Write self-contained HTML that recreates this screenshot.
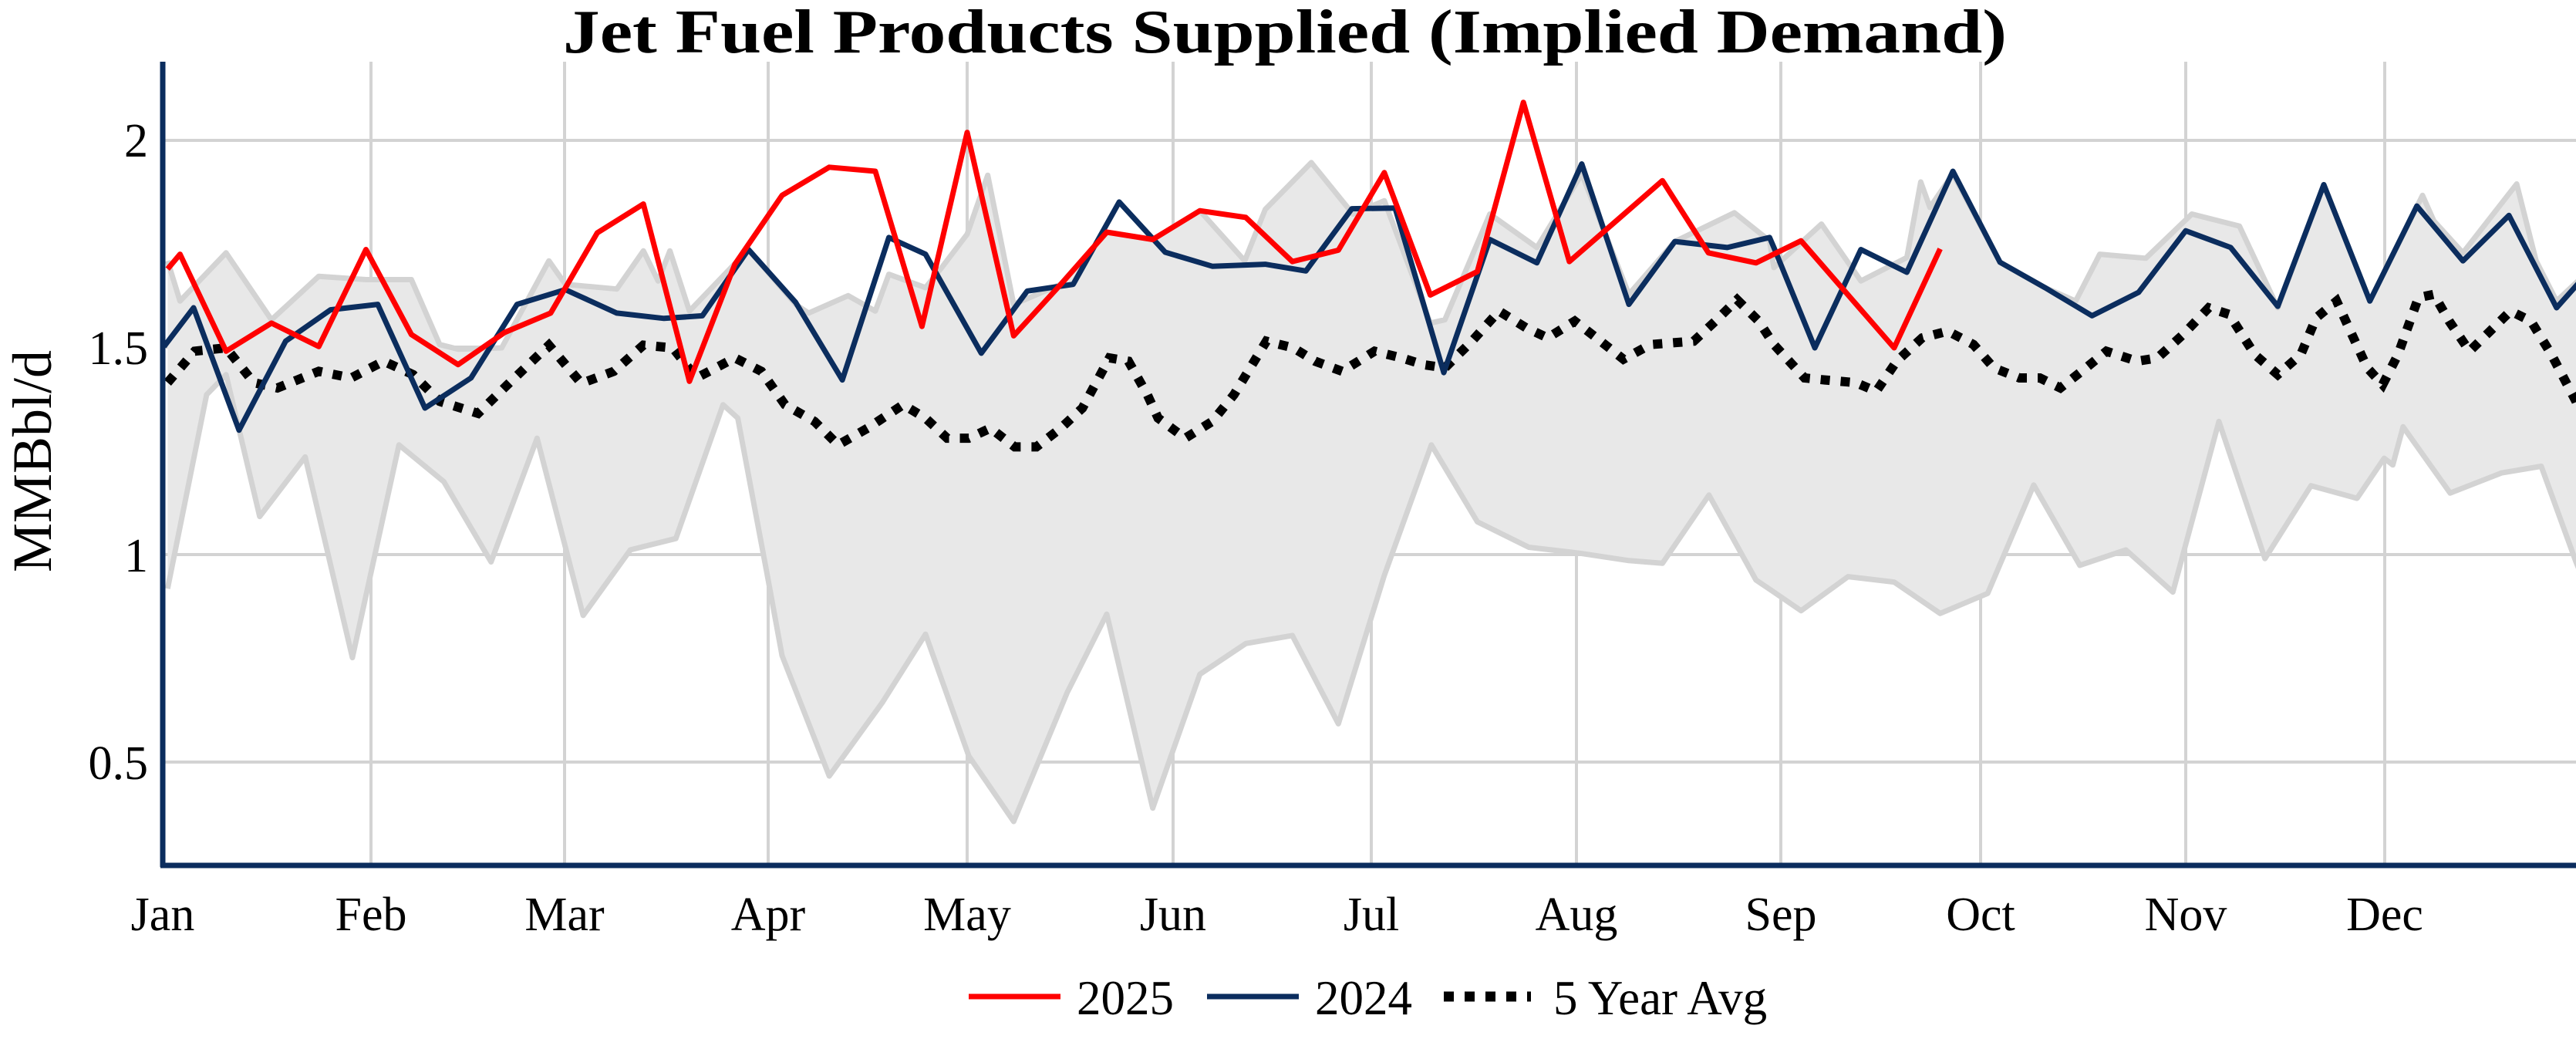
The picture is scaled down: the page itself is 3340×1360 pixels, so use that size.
<!DOCTYPE html>
<html><head><meta charset="utf-8"><style>
html,body{margin:0;padding:0;background:#fff;}
svg{display:block;}
text{font-family:"Liberation Serif",serif;fill:#000;}
</style></head><body>
<svg id="s" width="3340" height="1360" viewBox="0 0 3340 1360" xmlns="http://www.w3.org/2000/svg">
<defs><clipPath id="c"><rect x="211" y="60" width="3129" height="1064"/></clipPath></defs>
<g id="grid" stroke="#d3d3d3" stroke-width="4"></g>
<g clip-path="url(#c)">
<path id="fill" fill="#e8e8e8" stroke="none"/>
<path id="up" fill="none" stroke="#d3d3d3" stroke-width="7" stroke-linejoin="round"/>
<path id="lo" fill="none" stroke="#d3d3d3" stroke-width="7" stroke-linejoin="round"/>
<path id="avg" fill="none" stroke="#000" stroke-width="12" stroke-dasharray="12 14"/>
<path id="b" fill="none" stroke="#0b2d5e" stroke-width="7" stroke-linejoin="round"/>
<path id="r" fill="none" stroke="#ff0000" stroke-width="7" stroke-linejoin="round"/>
</g>
<line x1="211" y1="80" x2="211" y2="1124" stroke="#0b2d5e" stroke-width="7"/>
<line x1="208" y1="1122" x2="3340" y2="1122" stroke="#0b2d5e" stroke-width="7"/>
<text x="1666" y="68" text-anchor="middle" font-size="80" font-weight="bold" textLength="1872" lengthAdjust="spacingAndGlyphs">Jet Fuel Products Supplied (Implied Demand)</text>
<g font-size="62" text-anchor="end">
<text x="192" y="203">2</text><text x="192" y="472">1.5</text><text x="192" y="741">1</text><text x="192" y="1010">0.5</text>
</g>
<text transform="translate(66,598) rotate(-90)" text-anchor="middle" font-size="72">MMBbl/d</text>
<g font-size="62" text-anchor="middle">
<text x="211" y="1206">Jan</text><text x="481" y="1206">Feb</text><text x="732" y="1206">Mar</text><text x="996" y="1206">Apr</text>
<text x="1254" y="1206">May</text><text x="1521" y="1206">Jun</text><text x="1778" y="1206">Jul</text><text x="2044" y="1206">Aug</text>
<text x="2309" y="1206">Sep</text><text x="2568" y="1206">Oct</text><text x="2834" y="1206">Nov</text><text x="3092" y="1206">Dec</text>
</g>
<line x1="1256" y1="1292" x2="1375" y2="1292" stroke="#ff0000" stroke-width="7"/>
<text x="1396" y="1315" font-size="63">2025</text>
<line x1="1565" y1="1292" x2="1684" y2="1292" stroke="#0b2d5e" stroke-width="7"/>
<text x="1705" y="1315" font-size="63">2024</text>
<line x1="1872" y1="1292" x2="1985" y2="1292" stroke="#000" stroke-width="13" stroke-dasharray="13 14"/>
<text x="2014" y="1315" font-size="63">5 Year Avg</text>
</svg>
<script>
function T(z,pts){var sx=[1.3067,1.4255,1.5077][z],ox=[0,1200,2300][z];return pts.map(function(p){return [ox+p[0]/sx,p[1]/1.153];});}
function P(a){return a.map(function(p,i){return (i?'L':'M')+p[0].toFixed(1)+' '+p[1].toFixed(1);}).join(' ');}
var red=T(0,[[284,402],[305,380],[383,525],[460,483],[540,518],[620,373],[697,500],[776,545],[855,497],[933,468],[1012,348],[1090,305],[1168,570],[1245,395],[1325,292],[1405,250],[1483,256],[1562,488]])
.concat(T(1,[[77,198],[163,502],[250,425],[335,347],[420,358],[507,315],[592,325],[678,391],[763,374],[848,258],[933,441],[1020,406],[1105,153],[1190,391],[1277,330],[1362,270],[1447,378],[1535,393]]))
.concat(T(2,[[53,360],[144,440],[235,520],[325,372]]));
var blue=T(0,[[278,518],[328,460],[405,643],[484,510],[560,463],[640,455],[720,610],[798,565],[876,455],[958,433],[1045,468],[1125,476],[1190,472],[1268,373],[1348,452],[1427,568],[1506,355]])
.concat(T(1,[[0,380],[103,528],[188,435],[273,425],[358,302],[443,377],[530,398],[628,395],[703,405],[788,312],[868,311],[958,557],[1043,358],[1130,393],[1213,245],[1300,455],[1385,361],[1482,370],[1560,355]]))
.concat(T(2,[[0,370],[80,520],[170,373],[260,407],[350,256],[442,392],[530,430],[622,472],[713,437],[805,345],[893,370],[985,458],[1075,276],[1165,450],[1257,308],[1347,390],[1437,322],[1530,460],[1600,400]]));
var avg=T(0,[[284,572],[330,525],[383,520],[430,572],[470,580],[540,555],[595,565],[650,540],[700,560],[745,600],[810,618],[860,575],[930,516],[985,573],[1040,555],[1090,516],[1140,520],[1180,565],[1245,535],[1290,555],[1330,605],[1380,630],[1420,665],[1470,640],[1530,605]])
.concat(T(1,[[0,625],[40,655],[80,655],[120,640],[165,668],[205,668],[250,640],[290,610],[340,535],[375,540],[410,590],[430,625],[480,655],[530,630],[570,590],[630,510],[680,520],[720,540],[770,555],[830,525],[880,535],[920,545],[960,550],[1010,510],[1060,465],[1110,490],[1150,505],[1200,480],[1240,505],[1290,537],[1340,515],[1420,510],[1460,480],[1500,448],[1540,480]]))
.concat(T(2,[[0,515],[30,540],[60,565],[100,568],[160,572],[200,585],[240,540],[290,505],[340,495],[390,515],[430,550],[480,565],[520,565],[560,580],[610,550],[650,525],[710,540],[750,535],[800,500],[850,460],[890,470],[940,530],[985,560],[1030,530],[1060,475],[1100,450],[1130,500],[1160,550],[1190,575],[1220,530],[1260,445],[1290,440],[1320,480],[1360,525],[1400,495],[1440,465],[1480,480],[1520,530],[1568,600],[1600,660]]));
var up=T(0,[[284,390],[305,450],[383,378],[460,478],[540,413],[620,418],[697,418],[745,515],[776,522],[850,520],[930,390],[958,425],[1045,432],[1090,375],[1115,420],[1135,375],[1168,465],[1268,373],[1348,455],[1370,468],[1437,442],[1483,465],[1506,410],[1568,430]])
.concat(T(1,[[30,400],[77,350],[115,262],[163,455],[250,425],[335,347],[420,358],[507,315],[590,390],[628,313],[713,243],[790,320],[848,300],[933,483],[960,478],[1043,320],[1130,370],[1213,260],[1300,440],[1385,361],[1495,318],[1560,360]]))
.concat(T(2,[[0,400],[93,335],[170,420],[260,385],[287,272],[305,310],[350,260],[442,392],[530,430],[590,450],[637,380],[727,386],[817,320],[910,338],[985,460],[1075,276],[1165,450],[1268,292],[1290,330],[1347,378],[1452,275],[1490,390],[1530,450],[1600,400]]));
var lo=T(0,[[284,880],[350,590],[383,560],[440,772],[517,683],[597,983],[676,665],[752,720],[832,840],[910,655],[988,920],[1068,822],[1145,805],[1225,605],[1250,625],[1300,860],[1325,980],[1405,1160],[1495,1050],[1568,948]])
.concat(T(1,[[80,1130],[163,1228],[262,1035],[335,918],[420,1208],[507,1008],[592,962],[678,950],[763,1082],[848,860],[935,665],[1020,780],[1115,818],[1210,827],[1300,838],[1362,842],[1448,740],[1535,867]]))
.concat(T(2,[[0,885],[53,913],[145,862],[235,870],[325,917],[418,887],[508,725],[598,845],[688,822],[780,885],[870,630],[960,835],[1050,726],[1140,745],[1193,685],[1210,695],[1230,638],[1322,737],[1422,707],[1500,697],[1568,840],[1600,900]]));
document.getElementById('r').setAttribute('d',P(red));
document.getElementById('b').setAttribute('d',P(blue));
document.getElementById('avg').setAttribute('d',P(avg));
document.getElementById('up').setAttribute('d',P(up));
document.getElementById('lo').setAttribute('d',P(lo));
document.getElementById('fill').setAttribute('d',P(up.concat(lo.slice().reverse()))+' Z');
var g=document.getElementById('grid'),s='';
[182,450,719,988].forEach(function(y){s+='<line x1="211" x2="3340" y1="'+y+'" y2="'+y+'"/>';});
[481,732,996,1254,1521,1778,2044,2309,2568,2834,3092].forEach(function(x){s+='<line y1="80" y2="1124" x1="'+x+'" x2="'+x+'"/>';});
g.innerHTML=s;
</script>
</body></html>
